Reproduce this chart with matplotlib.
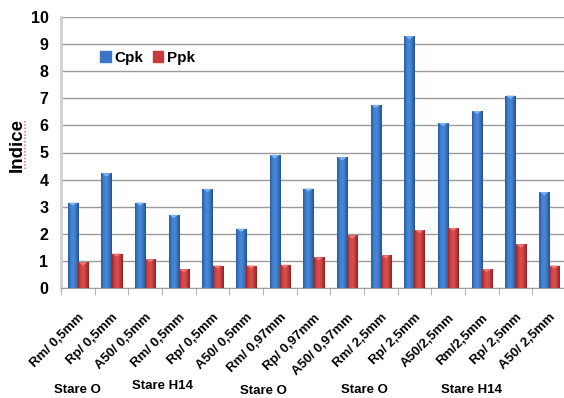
import numpy as np
import matplotlib.pyplot as plt
from matplotlib.lines import Line2D
from matplotlib.colors import LinearSegmentedColormap

plt.rcParams['font.family'] = ['Liberation Sans', 'DejaVu Sans']

# process capability indices per sample / thickness
categories = ['Rm/ 0,5mm', 'Rp/ 0,5mm', 'A50/ 0,5mm', 'Rm/ 0,5mm', 'Rp/ 0,5mm',
              'A50/ 0,5mm', 'Rm/ 0,97mm', 'Rp/ 0,97mm', 'A50/ 0,97mm', 'Rm/ 2,5mm',
              'Rp/ 2,5mm', 'A50/2,5mm', 'Rm/2,5mm', 'Rp/ 2,5mm', 'A50/ 2,5mm']
cpk = [3.15, 4.23, 3.15, 2.7, 3.66, 2.19, 4.9, 3.67, 4.82, 6.76, 9.29, 6.09, 6.53, 7.1, 3.54]
ppk = [0.95, 1.27, 1.07, 0.69, 0.83, 0.83, 0.86, 1.13, 1.94, 1.21, 2.14, 2.22, 0.7, 1.61, 0.83]
group_names = ['Stare O', 'Stare H14', 'Stare O', 'Stare O', 'Stare H14']
group_pos = [0.0, 2.5, 5.5, 8.5, 11.7]
group_y = [390, 386, 391, 390, 390]

fig = plt.figure(figsize=(5.64, 3.98), dpi=100)
ax = fig.add_axes([61/564, 1-288/398, 505/564, 271/398])

x = np.arange(len(categories))
w = 0.3

blue_cm = LinearSegmentedColormap.from_list('b', ['#2a5aa0', '#3f7fcf', '#4a8ad6', '#3a74c0', '#26508f'])
red_cm = LinearSegmentedColormap.from_list('r', ['#9c2626', '#cf4444', '#d85050', '#c43b3b', '#8e2222'])
grad = np.linspace(0, 1, 64).reshape(1, -1)


def cyl_bars(xs, vals, cmap, cap):
    bars = ax.bar(xs, vals, w, color=cmap(0.5), linewidth=0, zorder=3)
    for b in bars:
        x0, h = b.get_x(), b.get_height()
        im = ax.imshow(grad, cmap=cmap, aspect='auto', zorder=4,
                       extent=(x0, x0 + w, 0, h), interpolation='bilinear')
        im.set_clip_path(b)
        # lighter top cap
        ax.fill([x0 + 0.02, x0 + w - 0.02, x0 + w / 2], [h, h, h - 0.12],
                color=cap, lw=0, zorder=5)
    return bars


cyl_bars(x - w / 2, cpk, blue_cm, '#7fb4ee')
cyl_bars(x + w / 2, ppk, red_cm, '#e87a7a')

ax.set_xlim(-0.5, len(categories) - 0.5)
ax.set_ylim(0, 10)
ax.set_yticks(range(0, 11))
ax.yaxis.grid(True, color='#9a9a9a', lw=1)
ax.set_axisbelow(True)
for s in ['top', 'right']:
    ax.spines[s].set_visible(False)
ax.spines['left'].set_color('#d0d0d0')
ax.spines['left'].set_linewidth(2)
ax.spines['bottom'].set_color('#a0a0a0')
ax.tick_params(axis='y', length=0, pad=9, labelsize=11.5)
for t in ax.get_yticklabels():
    t.set_fontweight('bold')

ax.set_xticks(np.arange(len(categories) + 1) - 0.5, minor=True)
ax.set_xticks(x)
ax.set_xticklabels(categories, rotation=45, ha='right', rotation_mode='anchor',
                   fontsize=9.5, fontweight='bold')
ax.tick_params(axis='x', which='major', length=0, pad=17)
ax.tick_params(axis='x', which='minor', length=5, color='#a0a0a0')

fig.text(17/564, 1-145/398, 'Indice', rotation=90, ha='center', va='center',
         fontsize=13.5, fontweight='bold')
fig.add_artist(Line2D([25/564, 25/564], [1-121/398, 1-169/398], color='#f08080',
                      lw=1.2, ls=(0, (1, 1))))

for name, gp, gy in zip(group_names, group_pos, group_y):
    xd = ax.transData.transform((gp, 0))[0]
    fig.text(xd/564, 1-gy/398, name, ha='center', va='center', fontsize=9.5, fontweight='bold')

handles = [plt.Rectangle((0, 0), 1, 1, color='#3a76c4'), plt.Rectangle((0, 0), 1, 1, color='#c63a3a')]
ax.legend(handles, ['Cpk', 'Ppk'], loc='upper left', bbox_to_anchor=(0.05, 0.925), ncol=2,
          frameon=False, prop={'weight': 'bold', 'size': 11}, handlelength=0.7,
          handleheight=0.7, handletextpad=0.25, columnspacing=0.6)

plt.savefig('out.png', dpi=100)
plt.close()
